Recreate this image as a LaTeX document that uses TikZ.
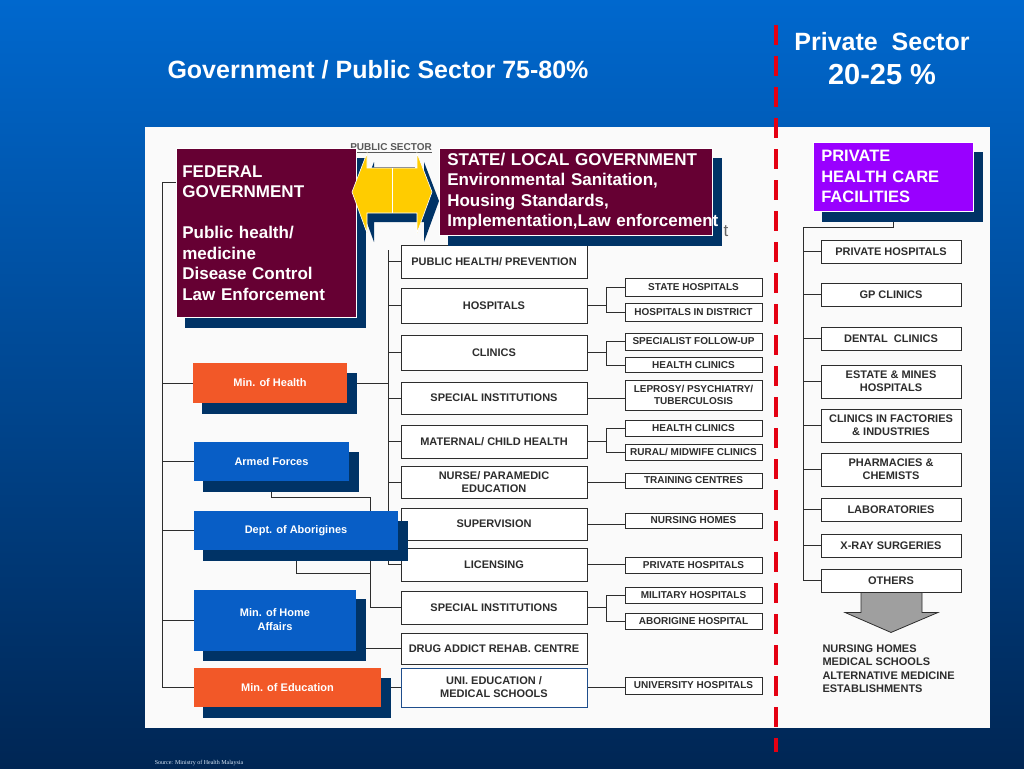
\documentclass[tikz,border=0pt]{standalone}
\usepackage{fontspec}
\setmainfont{Liberation Sans}
\newfontfamily\notefont{Liberation Serif}
\usetikzlibrary{shadows,positioning}

\definecolor{maroonbox}{RGB}{102,0,51}
\definecolor{navyshade}{RGB}{0,51,102}
\definecolor{orangebox}{RGB}{242,88,40}
\definecolor{bluebox}{RGB}{8,94,198}
\definecolor{purplebox}{RGB}{153,0,255}
\definecolor{arrowyellow}{RGB}{255,204,0}
\definecolor{divred}{RGB}{228,0,18}
\definecolor{skytop}{RGB}{0,104,206}
\definecolor{skymid}{RGB}{0,80,165}
\definecolor{skybottom}{RGB}{0,38,84}
\definecolor{scanink}{RGB}{45,45,45}
\definecolor{unirim}{RGB}{31,78,140}

\pgfdeclarelayer{back}
\pgfdeclarelayer{links}
\pgfsetlayers{back,links,main}

\tikzset{
  navyshadow/.style={drop shadow={shadow xshift=9pt, shadow yshift=-10pt,
      fill=navyshade, draw=navyshade, opacity=1}},
  scanbox/.style={draw=scanink, line width=0.9pt, fill=white, text=scanink,
      align=center, inner sep=1pt, font=\fontsize{11}{13}\selectfont\bfseries,
      minimum width=186pt, minimum height=33pt},
  subbox/.style={scanbox, font=\fontsize{10}{12}\selectfont\bfseries,
      minimum width=137pt, minimum height=17pt},
  privbox/.style={scanbox, minimum width=140pt, minimum height=23pt},
  link/.style={draw=scanink, line width=0.8pt},
  colbox/.style={navyshadow, text=white, align=center, inner sep=2pt,
      font=\fontsize{11}{14}\selectfont\bfseries, minimum height=39pt},
  headbox/.style={navyshadow, fill=maroonbox, draw=white, line width=0.6pt,
      text=white, align=left, anchor=north west, inner ysep=3pt,
      font=\fontsize{17}{20.5}\selectfont\bfseries},
}

\begin{document}
\begin{tikzpicture}[x=1pt,y=-1pt]
  \useasboundingbox (0,0) rectangle (1024,768);

  % Arka plan ve beyaz pano
  \begin{pgfonlayer}{back}
    \shade[top color=skytop, middle color=skymid, bottom color=skybottom]
      (0,0) rectangle (1024,768);
    \fill[white!96!gray] (145,127) rectangle (990,728);
  \end{pgfonlayer}

  % Basliklar
  \node[anchor=base, text=white, font=\fontsize{25}{30}\selectfont\bfseries]
    (govt) at (378,78) {Government / Public Sector 75-80\%};
  \node[anchor=base, text=white, font=\fontsize{25}{30}\selectfont\bfseries]
    (privt) at (882,51) {Private\ \ Sector};
  \node[anchor=base, text=white, font=\fontsize{29}{34}\selectfont\bfseries]
    (privp) at (882,84) {20-25 \%};

  % Taranmis sema: ust kisim
  \node[text=black!65, font=\fontsize{10}{12}\selectfont\bfseries]
    (pubsec) at (391,148) {\underline{PUBLIC SECTOR}};
  \draw[black!65, line width=0.8pt] (372,167) -- (415,167);
  \node[text=black!60, font=\fontsize{17}{20}\selectfont] (tail) at (726,231) {t};

  % Orta sutun
  \node[scanbox] (pub) at (494,261.5) {PUBLIC HEALTH/ PREVENTION};
  \node[scanbox, minimum height=35pt] (hosp) at (494,305.5) {HOSPITALS};
  \node[scanbox, minimum height=35pt] (clin) at (494,352.5) {CLINICS};
  \node[scanbox, minimum height=32pt] (spec1) at (494,398) {SPECIAL INSTITUTIONS};
  \node[scanbox] (mat) at (494,441.5) {MATERNAL/ CHILD HEALTH};
  \node[scanbox, minimum height=32pt] (nurse) at (494,482) {NURSE/ PARAMEDIC\\EDUCATION};
  \node[scanbox, minimum height=32pt] (sup) at (494,524) {SUPERVISION};
  \node[scanbox] (lic) at (494,564.5) {LICENSING};
  \node[scanbox] (spec2) at (494,607.5) {SPECIAL INSTITUTIONS};
  \node[scanbox, minimum height=31pt] (drug) at (494,648.5) {DRUG ADDICT REHAB. CENTRE};
  \node[scanbox, draw=unirim, minimum height=39pt] (uni) at (494,687.5)
    {UNI. EDUCATION /\\MEDICAL SCHOOLS};

  % Alt kutular
  \node[subbox, minimum height=18pt] (sthosp) at (693.5,287) {STATE HOSPITALS};
  \node[subbox, minimum height=18pt] (disthosp) at (693.5,312) {HOSPITALS IN DISTRICT};
  \node[subbox] (specfu) at (693.5,341.5) {SPECIALIST FOLLOW-UP};
  \node[subbox, minimum height=15pt] (hclina) at (693.5,365) {HEALTH CLINICS};
  \node[subbox, minimum height=30pt] (lepro) at (693.5,395) {LEPROSY/ PSYCHIATRY/\\TUBERCULOSIS};
  \node[subbox, minimum height=16pt] (hclinb) at (693.5,428) {HEALTH CLINICS};
  \node[subbox, minimum height=16pt] (rural) at (693.5,452) {RURAL/ MIDWIFE CLINICS};
  \node[subbox, minimum height=15pt] (train) at (693.5,480.5) {TRAINING CENTRES};
  \node[subbox, minimum height=15pt] (nhome) at (693.5,520.5) {NURSING HOMES};
  \node[subbox, minimum height=16pt] (privh) at (693.5,565) {PRIVATE HOSPITALS};
  \node[subbox, minimum height=16pt] (milh) at (693.5,595) {MILITARY HOSPITALS};
  \node[subbox, minimum height=16pt] (abh) at (693.5,621) {ABORIGINE HOSPITAL};
  \node[subbox] (unih) at (693.5,685.5) {UNIVERSITY HOSPITALS};

  % Ozel sektor
  \node[headbox, fill=purplebox, text width=144pt, inner xsep=8pt, minimum height=69pt,
    font=\fontsize{16.5}{20.5}\selectfont\bfseries]
    (phcf) at (813,142) {PRIVATE\\HEALTH CARE\\FACILITIES};
  \node[privbox] (privhos) at (891,251.5) {PRIVATE HOSPITALS};
  \node[privbox] (gp) at (891,294.5) {GP CLINICS};
  \node[privbox] (dental) at (891,338.5) {DENTAL\ \ CLINICS};
  \node[privbox, minimum height=33pt] (estate) at (891,381.5) {ESTATE \& MINES\\HOSPITALS};
  \node[privbox, minimum height=33pt] (fact) at (891,425.5) {CLINICS IN FACTORIES\\\& INDUSTRIES};
  \node[privbox, minimum height=33pt] (pharm) at (891,469.5) {PHARMACIES \&\\CHEMISTS};
  \node[privbox] (lab) at (891,509.5) {LABORATORIES};
  \node[privbox] (xray) at (891,545.5) {X-RAY SURGERIES};
  \node[privbox] (others) at (891,580.5) {OTHERS};
  \draw[fill=gray!75, draw=scanink, line width=0.8pt]
    ([xshift=-30pt]others.south) -- ++(0,20) -- ++(-16,0)
    -- ([yshift=-40pt]others.south) -- ++(47,-20) -- ++(-16,0) -- ++(0,-20) -- cycle;
  \node[anchor=north west, align=left, text=scanink,
    font=\fontsize{11}{13.5}\selectfont\bfseries] (rest) at (819,641)
    {NURSING HOMES\\MEDICAL SCHOOLS\\ALTERNATIVE MEDICINE\\ESTABLISHMENTS};

  % Bakanliklar
  \node[colbox, fill=orangebox, minimum width=154pt, minimum height=40pt]
    (health) at (270,383) {Min. of Health};
  \node[colbox, fill=bluebox, minimum width=155pt] (armed) at (271.5,461.5) {Armed Forces};
  \node[colbox, fill=bluebox, minimum width=204pt] (abor) at (296,530.5) {Dept. of Aborigines};
  \node[colbox, fill=bluebox, minimum width=162pt, minimum height=61pt]
    (home) at (275,620) {Min. of Home\\Affairs};
  \node[colbox, fill=orangebox, minimum width=187pt] (edu) at (287.5,687.5) {Min. of Education};

  % Federal ve eyalet kutulari
  \node[headbox, text width=168pt, inner xsep=6pt, minimum height=169pt] (fed) at (176,148)
    {FEDERAL\\GOVERNMENT\\[20.5pt]Public health/\\medicine\\Disease Control\\Law Enforcement};
  \node[headbox, text width=257pt, inner xsep=8pt, minimum height=87pt] (state) at (439,148)
    {STATE/ LOCAL GOVERNMENT\\Environmental Sanitation,\\Housing Standards,\\
     \mbox{Implementation,Law enforcement}};

  % Cift yonlu ok
  \fill[navyshade, shift={(7,9)}] (352,192) -- (367,153) -- (367,168) -- (417,168)
    -- (417,153) -- (432,192) -- (417,233) -- (417,213) -- (367,213) -- (367,233) -- cycle;
  \filldraw[fill=arrowyellow, draw=white, line width=0.6pt] (352,192) -- (367,153)
    -- (367,168) -- (417,168) -- (417,153) -- (432,192) -- (417,233) -- (417,213)
    -- (367,213) -- (367,233) -- cycle;
  \draw[white, line width=0.8pt] (392,168) -- (392,213);

  % Baglantilar
  \begin{pgfonlayer}{links}
    \coordinate (lsp) at (162,182);
    \draw[link] (fed.west |- lsp) -- (lsp) |- (edu.west);
    \foreach \n in {health,armed,abor,home}
      \draw[link] (lsp |- \n.west) -- (\n.west);
    \coordinate (msp) at (388,250);
    \draw[link] (msp) |- (lic.west);
    \foreach \n in {pub,hosp,clin,spec1,mat,nurse,sup}
      \draw[link] (msp |- \n.west) -- (\n.west);
    \draw[link] (health.east) -- (health.east -| msp);
    \coordinate (jn) at (370,497);
    \coordinate (jnb) at (370,573);
    \draw[link] (armed.south) |- (jn) |- (spec2.west);
    \draw[link] (abor.south) |- (jnb);
    \draw[link] (drug.west -| home.east) -- (drug.west);
    \draw[link] (uni.west -| edu.east) -- (uni.west);
    \foreach \a/\b in {hosp/sthosp,hosp/disthosp,clin/specfu,clin/hclina,
        mat/hclinb,mat/rural,spec2/milh,spec2/abh}
      \draw[link] (\a.east) -| ([xshift=-18pt]\b.west) -- (\b.west);
    \foreach \a/\b in {spec1/lepro,nurse/train,sup/nhome,lic/privh,uni/unih}
      \draw[link] (\a.east) -- (\a.east -| \b.west);
    \coordinate (psp) at (803,227);
    \draw[link] (phcf.south) |- (psp) |- (others.west);
    \foreach \n in {privhos,gp,dental,estate,fact,pharm,lab,xray}
      \draw[link] (psp |- \n.west) -- (\n.west);
  \end{pgfonlayer}

  % Ayirici cizgi ve kaynak
  \draw[divred, line width=4pt, dash pattern=on 20pt off 11pt] (776,25) -- (776,752);
  \node[text=white!85!skytop, font=\notefont\fontsize{6}{7}\selectfont] (src) at (199,763)
    {Source: Ministry of Health Malaysia};
\end{tikzpicture}
\end{document}
